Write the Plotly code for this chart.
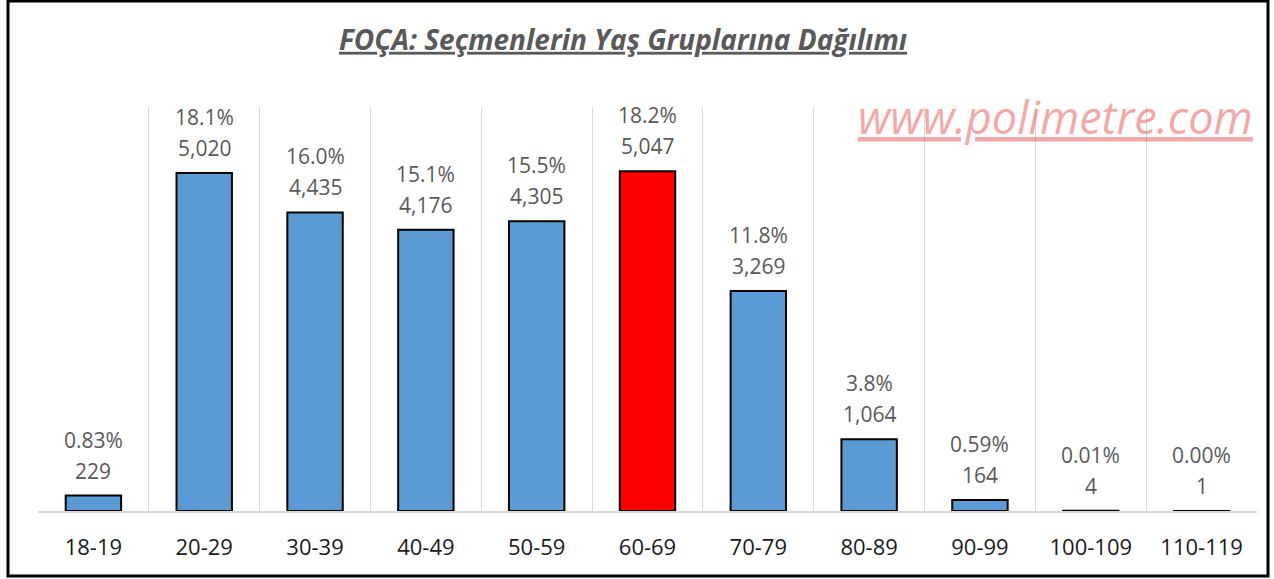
import plotly.graph_objects as go

categories = ["18-19", "20-29", "30-39", "40-49", "50-59", "60-69", "70-79", "80-89", "90-99", "100-109", "110-119"]
voters = [229, 5020, 4435, 4176, 4305, 5047, 3269, 1064, 164, 4, 1]
pct_labels = ["0.83%", "18.1%", "16.0%", "15.1%", "15.5%", "18.2%", "11.8%", "3.8%", "0.59%", "0.01%", "0.00%"]
highlight = "60-69"

W, H = 1274, 579
L, R, T, B = 38, 17, 107, 68

colors = ["#ff0000" if c == highlight else "#5b9bd5" for c in categories]

fig = go.Figure()
fig.add_trace(go.Bar(
    x=categories, y=voters,
    marker=dict(color=colors, line=dict(color="#000000", width=2)),
    width=0.5, hoverinfo="skip",
))

lab_font = dict(family="Open Sans", size=21, color="#595959")
for c, v, p in zip(categories, voters, pct_labels):
    fig.add_annotation(x=c, y=v, xref="x", yref="y", text=f"{v:,}", showarrow=False,
                       yanchor="middle", yshift=25, font=lab_font)
    fig.add_annotation(x=c, y=v, xref="x", yref="y", text=p, showarrow=False,
                       yanchor="middle", yshift=56, font=lab_font)

pw = W - L - R
ph = H - T - B
# outer black frame
fig.add_shape(type="rect", xref="paper", yref="paper",
              x0=(8 - L) / pw, x1=(1268 - L) / pw,
              y0=(H - B - 576) / ph, y1=(H - B - 1) / ph,
              line=dict(color="#000000", width=3), fillcolor="rgba(0,0,0,0)", layer="above")

# watermark
fig.add_annotation(
    xref="paper", yref="paper",
    x=(1055 - L) / pw, y=(H - B - 116) / ph,
    text="www.polimetre.com", showarrow=False,
    xanchor="center", yanchor="middle",
    font=dict(family="Open Sans", size=45, color="rgba(235,80,80,0.5)", style="italic", lineposition="under"),
)

fig.update_layout(
    width=W, height=H,
    margin=dict(l=L, r=R, t=T, b=B),
    paper_bgcolor="#ffffff", plot_bgcolor="#ffffff",
    showlegend=False,
    bargap=0.5,
    title=dict(
        text="FOÇA: Seçmenlerin Yaş Gruplarına Dağılımı",
        xref="paper", x=(623 - L) / pw, xanchor="center",
        yref="container", y=1 - 40 / H, yanchor="middle",
        font=dict(family="Open Sans", size=28, color="#595959", weight="bold", style="italic", lineposition="under"),
    ),
    xaxis=dict(
        type="category", tickson="boundaries", showgrid=True, gridcolor="#d9d9d9", gridwidth=1,
        ticks="", showline=True, linecolor="#d9d9d9", linewidth=2,
        tickfont=dict(family="Open Sans", size=22, color="#1a1a1a"),
        ticklabelstandoff=16, zeroline=False,
    ),
    yaxis=dict(range=[0, 6000], showgrid=False, showticklabels=False, zeroline=False, ticks=""),
)

fig.write_html("out.html", config={"displayModeBar": False},
               post_script="document.body.style.margin='0';document.body.style.overflow='hidden';")
